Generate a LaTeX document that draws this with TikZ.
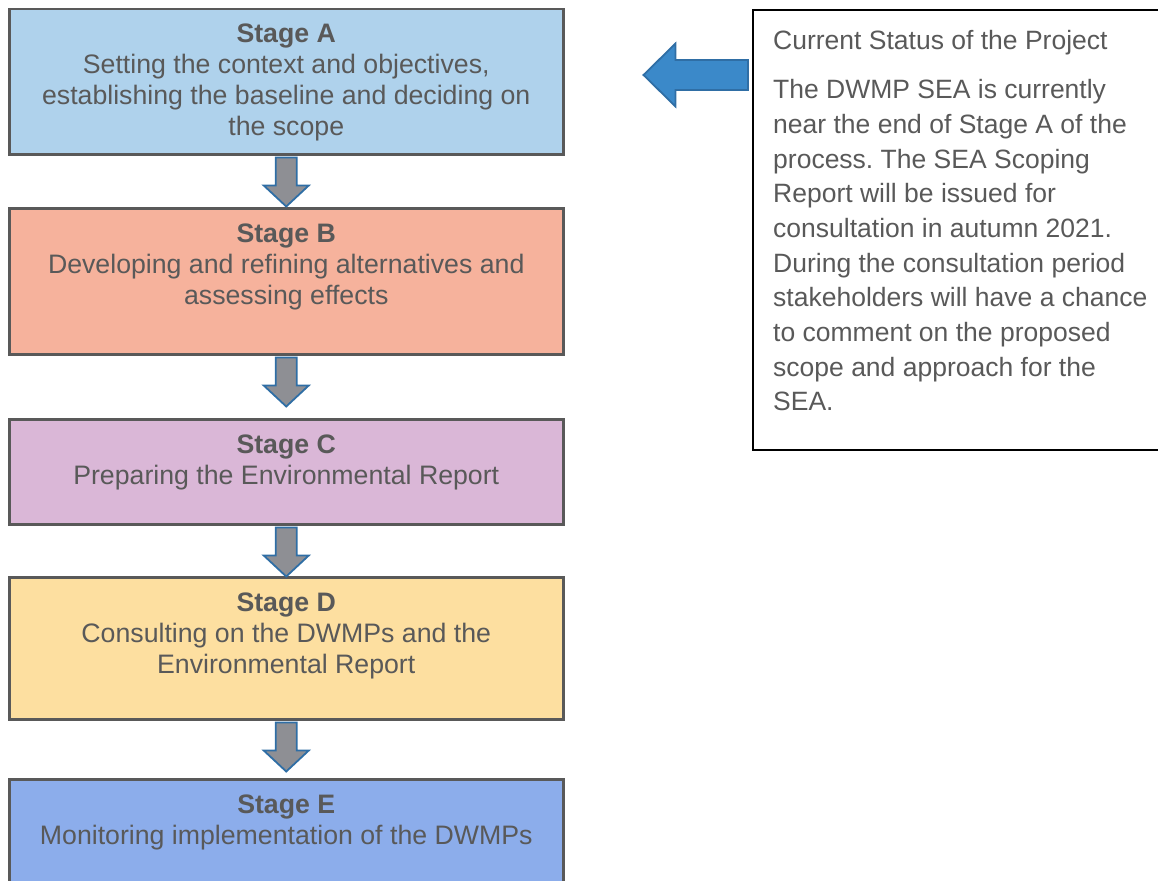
\documentclass[tikz,border=0pt]{standalone}
\usepackage{fontspec}
\setmainfont{Liberation Sans}
\usepackage{xcolor}
\usetikzlibrary{positioning, calc}
\frenchspacing

\definecolor{fillA}{HTML}{AFD2EC}
\definecolor{fillB}{HTML}{F6B29C}
\definecolor{fillC}{HTML}{DAB7D7}
\definecolor{fillD}{HTML}{FDDFA0}
\definecolor{fillE}{HTML}{8CADEB}
\definecolor{boxline}{HTML}{595959}
\definecolor{txtgray}{HTML}{595959}
\definecolor{arrowedge}{HTML}{2F6EA5}
\definecolor{arrowgray}{HTML}{8E8F94}
\definecolor{pointblue}{HTML}{3B89C9}

% block arrow from one stage box down towards the next
\newcommand{\stagearrow}[2]{%
  \coordinate (top) at ($(#1.south)!2pt!(#2.north)$);
  \coordinate (neck) at ($(#1.south)!30pt!(#2.north)$);
  \coordinate (tip) at ($(#1.south)!51pt!(#2.north)$);
  \draw[downarrow] ($(top)+(-10.5,0)$) -- ($(top)+(10.5,0)$) -- ($(neck)+(10.5,0)$)
    -- ($(neck)+(22.5,0)$) -- (tip) -- ($(neck)+(-22.5,0)$) -- ($(neck)+(-10.5,0)$) -- cycle;}

\begin{document}
\begin{tikzpicture}[x=1pt, y=-1pt,
  stagebox/.style={draw=boxline, line width=2.5pt, anchor=north west, minimum width=554pt, inner sep=0pt},
  stagetext/.style={anchor=north, inner sep=0pt, align=center, text=txtgray, font=\fontsize{26.7}{31}\selectfont},
  downarrow/.style={draw=arrowedge, line width=1.8pt, fill=arrowgray, line join=miter}]

  \useasboundingbox (0,0) rectangle (1158,880);

  % ==========================================
  % Stage boxes
  % ==========================================
  \node[stagebox, fill=fillA, minimum height=145pt] (stA) at (8,8) {};
  \node[stagebox, fill=fillB, minimum height=146pt] (stB) at (8,207) {};
  \node[stagebox, fill=fillC, minimum height=105pt] (stC) at (8,418) {};
  \node[stagebox, fill=fillD, minimum height=142pt] (stD) at (8,576) {};
  \node[stagebox, fill=fillE, minimum height=130pt] (stE) at (8,778) {};

  % Stage texts
  \node[stagetext] (txtA) at ($(stA.north)+(0,16)$) {\textbf{Stage A}\\Setting the context and objectives,\\establishing the baseline and deciding on\\the scope};
  \node[stagetext] (txtB) at ($(stB.north)+(0,17)$) {\textbf{Stage B}\\Developing and refining alternatives and\\assessing effects};
  \node[stagetext] (txtC) at ($(stC.north)+(0,17)$) {\textbf{Stage C}\\Preparing the Environmental Report};
  \node[stagetext] (txtD) at ($(stD.north)+(0,17)$) {\textbf{Stage D}\\Consulting on the DWMPs and the\\Environmental Report};
  \node[stagetext] (txtE) at ($(stE.north)+(0,17)$) {\textbf{Stage E}\\Monitoring implementation of the DWMPs};

  % Arrows between stages
  \stagearrow{stA}{stB}
  \stagearrow{stB}{stC}
  \stagearrow{stC}{stD}
  \stagearrow{stD}{stE}

  % ==========================================
  % Status box
  % ==========================================
  \node[draw=black, line width=1.8pt, anchor=north west, minimum width=430pt, minimum height=440pt, inner sep=0pt] (status) at (752,9) {};
  \node[anchor=north west, inner sep=0pt, align=left, text=txtgray, font=\fontsize{26.5}{34.7}\selectfont] (statustxt) at ($(status.north west)+(21,21.5)$)
    {Current Status of the Project\\[14pt]
     The DWMP SEA is currently\\
     near the end of Stage A of the\\
     process. The SEA Scoping\\
     Report will be issued for\\
     consultation in autumn 2021.\\
     During the consultation period\\
     stakeholders will have a chance\\
     to comment on the proposed\\
     scope and approach for the\\
     SEA.};

  % Pointer from status box to Stage A
  \coordinate (pbase) at ($(status.north west)+(-4,66)$);
  \coordinate (ptip) at ($(stA.east |- pbase)+(79,0)$);
  \draw[draw=arrowedge, line width=1.8pt, fill=pointblue] ($(pbase)+(0,-15)$) -- ($(pbase)+(0,15)$)
    -- ($(ptip)+(32,15)$) -- ($(ptip)+(32,31.5)$) -- (ptip) -- ($(ptip)+(32,-31.5)$) -- ($(ptip)+(32,-15)$) -- cycle;

\end{tikzpicture}
\end{document}
